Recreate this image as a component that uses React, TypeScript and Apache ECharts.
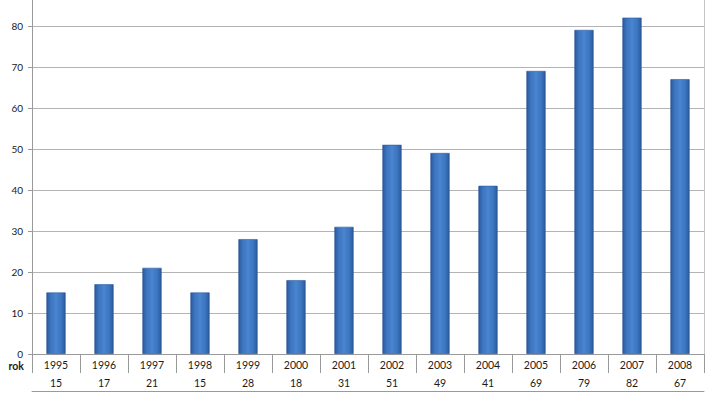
import React, { useEffect, useRef } from "react";
import * as echarts from "echarts";

const years = ["1995", "1996", "1997", "1998", "1999", "2000", "2001", "2002", "2003", "2004", "2005", "2006", "2007", "2008"];
const values = [15, 17, 21, 15, 28, 18, 31, 51, 49, 41, 69, 79, 82, 67];
const yMin = 0;
const yMax = 86.3;
const yStep = 10;
const rowLabel = "rok";

const FONT = "Lato, 'Noto Sans', sans-serif";
const GRID_GREY = "#b4b4b4";
const AXIS_GREY = "#9a9a9a";

export default function App() {
  const ref = useRef<HTMLDivElement>(null);
  useEffect(() => {
    if (!ref.current) return;
    const chart = echarts.init(ref.current, null, { renderer: "svg" });
    const barColor = new echarts.graphic.LinearGradient(0, 0, 1, 0, [
      { offset: 0, color: "#2a5796" },
      { offset: 0.18, color: "#3a72bd" },
      { offset: 0.5, color: "#4a85d0" },
      { offset: 0.82, color: "#3a72bd" },
      { offset: 1, color: "#2a5796" },
    ]);
    const tableAxisBase = {
      type: "category" as const,
      position: "bottom" as const,
      gridIndex: 0,
      boundaryGap: true,
      axisLine: { show: true, lineStyle: { color: AXIS_GREY, width: 1 } },
      splitLine: { show: false },
    };
    chart.setOption({
      animation: false,
      backgroundColor: "#ffffff",
      textStyle: { fontFamily: FONT },
      grid: { left: 32, right: 2, top: 0, bottom: 42, containLabel: false },
      xAxis: [
        {
          ...tableAxisBase,
          data: years,
          offset: 0,
          axisTick: { show: true, length: 19, interval: 0, lineStyle: { color: AXIS_GREY } },
          axisLabel: { interval: 0, margin: 5, fontSize: 10.5, color: "#1a1a1a", fontFamily: FONT },
        },
        {
          ...tableAxisBase,
          data: values.map((v) => String(v)),
          offset: 19,
          axisTick: { show: true, length: 18, interval: 0, lineStyle: { color: AXIS_GREY } },
          axisLabel: { interval: 0, margin: 4, fontSize: 10.5, color: "#1a1a1a", fontFamily: FONT },
        },
        {
          ...tableAxisBase,
          data: years,
          offset: 37,
          axisTick: { show: false },
          axisLabel: { show: false },
        },
      ],
      yAxis: [
        {
          type: "value",
          min: yMin,
          max: yMax,
          interval: yStep,
          axisLine: { show: true, lineStyle: { color: AXIS_GREY, width: 1 } },
          axisTick: { show: true, length: 4, lineStyle: { color: AXIS_GREY } },
          axisLabel: { margin: 9, fontSize: 10, lineHeight: 8, color: "#1a1a1a", fontFamily: FONT, showMaxLabel: false },
          splitLine: { show: true, showMaxLine: false, lineStyle: { color: GRID_GREY, width: 1 } },
        },
        {
          type: "value",
          position: "right",
          min: yMin,
          max: yMax,
          interval: yStep,
          axisLine: { show: true, lineStyle: { color: "#c4c4c4", width: 1 } },
          axisTick: { show: false },
          axisLabel: { show: false },
          splitLine: { show: false },
        },
      ],
      graphic: [
        {
          type: "text",
          right: 706 - 24,
          top: 360,
          style: {
            text: rowLabel,
            font: `bold 10.5px ${FONT}`,
            lineHeight: 10.5,
            fill: "#1a1a1a",
            textAlign: "right",
          },
        },
      ],
      series: [
        {
          type: "bar",
          xAxisIndex: 0,
          yAxisIndex: 0,
          data: values,
          barWidth: "40%",
          itemStyle: { color: barColor, borderColor: "#2b5a9a", borderWidth: 0.6 },
        },
      ],
    });
    return () => chart.dispose();
  }, []);
  return (
    <div
      ref={ref}
      style={{ position: "fixed", left: 0, top: 0, width: 706, height: 396, background: "#fff" }}
    />
  );
}
